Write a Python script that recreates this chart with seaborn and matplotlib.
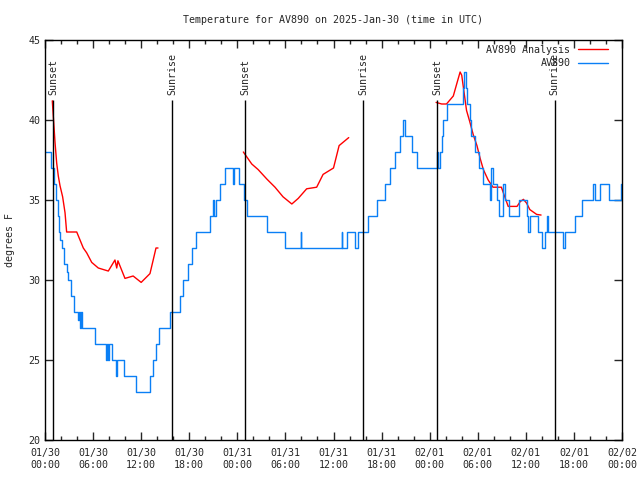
"""
Temperature for AV890 (observations vs analysis), 2025-Jan-30, UTC.
"""

import numpy as np
import pandas as pd
import matplotlib
matplotlib.use('Agg')
import matplotlib.pyplot as plt
import seaborn as sns
from matplotlib.ticker import MultipleLocator

# ============================================================================
# DATA (hours since 01/30 00:00 UTC, degrees F)
# ============================================================================

obs_hours = [0.0, 0.75, 1.16, 1.37, 1.56, 1.75, 1.87, 2.08, 2.4, 2.7, 2.9, 3.2, 3.66, 4.16,
             4.25, 4.37, 4.5, 4.6, 6.2, 7.6, 7.7, 7.85, 8.0, 8.3, 8.9, 9.0, 9.86, 11.3,
             13.05, 13.45, 13.85, 14.25, 15.6, 16.85, 17.25, 17.9, 18.3, 18.85, 20.6,
             21.0, 21.15, 21.3, 21.8, 22.4, 23.45, 23.6, 24.2, 24.8, 25.2, 27.7, 30.0,
             31.9, 32.0, 37.0, 37.1, 37.25, 37.65, 38.7, 39.0, 40.3, 41.4, 42.4, 43.1,
             43.7, 44.3, 44.7, 44.9, 45.8, 46.4, 48.9, 49.0, 49.3, 49.5, 49.7, 50.2,
             52.1, 52.3, 52.5, 52.7, 53.0, 53.2, 53.65, 54.1, 54.7, 55.5, 55.7, 55.9,
             56.4, 56.6, 57.1, 57.4, 57.9, 59.1, 60.1, 60.3, 60.5, 61.55, 62.0, 62.4,
             62.6, 62.8, 64.7, 64.9, 66.1, 67.0, 68.4, 68.6, 69.3, 70.4, 71.9, 72.0]
obs_temp = [38, 37, 36, 35, 34, 33, 32.5, 32, 31, 30.5, 30, 29, 28, 27.5,
            28, 27, 28, 27, 26, 25, 26, 25, 26, 25, 24, 25, 24, 23,
            24, 25, 26, 27, 28, 29, 30, 31, 32, 33, 34,
            35, 34, 35, 36, 37, 36, 37, 36, 35, 34, 33, 32,
            33, 32, 33, 32, 32, 33, 32, 33, 34, 35, 36, 37,
            38, 39, 40, 39, 38, 37, 38, 37, 38, 39, 40, 41,
            42, 43, 42, 41, 40, 39, 38, 37, 36, 35, 37, 36,
            35, 34, 36, 35, 34, 35, 34, 33, 34, 33, 32, 33,
            34, 33, 32, 33, 34, 35, 36, 35, 36, 35, 36, 36]

# analysis, three separate runs
ana_hours_1 = [0.91, 1.25, 1.46, 1.66, 1.87, 2.2, 2.5, 2.7, 3.96, 4.37, 4.78, 5.2, 5.83,
               6.65, 7.9, 8.73, 8.95, 9.1, 9.98, 11.0, 12.0, 12.7, 13.1, 13.5, 13.85, 14.1]
ana_temp_1 = [41.2, 38.6, 37.3, 36.5, 35.9, 35.2, 34.2, 33.0, 33.0, 32.5, 32.0, 31.7, 31.1,
              30.75, 30.56, 31.25, 30.75, 31.2, 30.1, 30.25, 29.85, 30.2, 30.4, 31.25, 32.0, 32.0]
ana_hours_2 = [24.75, 25.8, 26.6, 27.7, 28.7, 29.7, 30.8, 31.6, 32.65, 33.9, 34.7, 36.0,
               36.7, 37.9]
ana_temp_2 = [38.0, 37.25, 36.9, 36.3, 35.8, 35.2, 34.75, 35.1, 35.7, 35.8, 36.6, 37.0,
              38.4, 38.9]
ana_hours_3 = [48.8, 49.5, 50.1, 50.95, 51.4, 51.8, 52.0, 52.3, 52.6, 53.0, 53.45, 53.9,
               54.3, 54.7, 55.3, 55.9, 56.95, 57.3, 57.8, 58.9, 59.3, 59.7, 60.1, 60.5,
               61.35, 61.9]
ana_temp_3 = [41.1, 41.0, 41.0, 41.5, 42.3, 43.0, 42.8, 41.7, 40.6, 39.9, 39.06, 38.4,
              37.6, 36.9, 36.25, 35.8, 35.8, 35.3, 34.6, 34.6, 34.9, 35.04, 34.8, 34.4,
              34.1, 34.06]

sun_hours = [1.0, 15.85, 24.96, 39.68, 48.9, 63.6]
sun_labels = ['Sunset', 'Sunrise', 'Sunset', 'Sunrise', 'Sunset', 'Sunrise']

tick_hours = list(range(0, 73, 6))
tick_labels = ['01/30\n00:00', '01/30\n06:00', '01/30\n12:00', '01/30\n18:00',
               '01/31\n00:00', '01/31\n06:00', '01/31\n12:00', '01/31\n18:00',
               '02/01\n00:00', '02/01\n06:00', '02/01\n12:00', '02/01\n18:00',
               '02/02\n00:00']

# ============================================================================
# PLOT
# ============================================================================

FS = 7.2

sns.set_theme(style='ticks')
plt.rcParams['font.family'] = ['DejaVu Sans Mono']
plt.rcParams['font.size'] = FS

fig = plt.figure(figsize=(6.4, 4.8), dpi=100)
ax = fig.add_axes([45 / 640, 40 / 480, 577 / 640, 400 / 480])

df_obs = pd.DataFrame({'hora': obs_hours, 'temp': obs_temp})
ana_segs = [(ana_hours_1, ana_temp_1), (ana_hours_2, ana_temp_2), (ana_hours_3, ana_temp_3)]

for i, (h, t) in enumerate(ana_segs):
    sns.lineplot(x=h, y=t, ax=ax, color='#ff0000', linewidth=1, estimator=None,
                 label='AV890 Analysis' if i == 0 else None)

sns.lineplot(data=df_obs, x='hora', y='temp', ax=ax, color='#0a7ff5', linewidth=1,
             estimator=None, drawstyle='steps-post', label='AV890')

# sunrise / sunset markers
ax.vlines(sun_hours, 20, 41.25, color='black', linewidth=1)
for h, lab in zip(sun_hours, sun_labels):
    ax.text(h, 41.55, lab, rotation=90, ha='center', va='bottom', fontsize=FS)

ax.set_xlim(0, 72)
ax.set_ylim(20, 45)
ax.set_xticks(tick_hours)
ax.set_xticklabels(tick_labels)
ax.xaxis.set_minor_locator(MultipleLocator(2))
ax.yaxis.set_major_locator(MultipleLocator(5))
ax.tick_params(axis='both', which='both', direction='in', top=True, right=True,
               labelsize=FS, width=1)
ax.tick_params(which='major', length=6)
ax.tick_params(which='minor', length=3)
ax.tick_params(axis='x', pad=6)
for s in ax.spines.values():
    s.set_linewidth(1)
    s.set_color('black')

ax.set_xlabel('')
ax.set_ylabel('degrees F', fontsize=FS)
ax.yaxis.set_label_coords(-0.052, 0.5)
fig.text(333 / 640, 1 - 20 / 480, 'Temperature for AV890 on 2025-Jan-30 (time in UTC)',
         ha='center', va='center', fontsize=FS)

ax.legend(loc='upper right', bbox_to_anchor=(0.985, 1.0), frameon=False, markerfirst=False,
          fontsize=FS, handlelength=3.0, borderaxespad=0.1, labelspacing=0.35)
for t in ax.get_legend().get_texts():
    t.set_ha('right')
ax.get_legend()._legend_box.align = 'right'

fig.savefig('out.png', dpi=100)
